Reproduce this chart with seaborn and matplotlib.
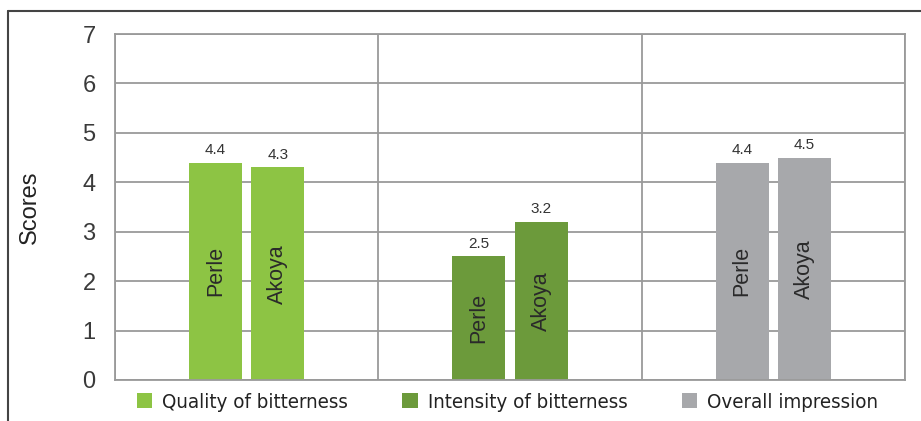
import seaborn as sns
import matplotlib.pyplot as plt
import pandas as pd
from matplotlib.lines import Line2D
from matplotlib.patches import Patch

# data
categories = ["Quality of bitterness", "Intensity of bitterness", "Overall impression"]
brands = ["Perle", "Akoya"]
perle = [4.4, 2.5, 4.4]
akoya = [4.3, 3.2, 4.5]
colors = ["#8dc444", "#6c9a3b", "#a7a8ab"]

df = pd.DataFrame({
    "category": categories * 2,
    "brand": ["Perle"] * 3 + ["Akoya"] * 3,
    "score": perle + akoya,
})

sns.set_style("white")
plt.rcParams["font.family"] = ["Liberation Sans", "DejaVu Sans"]

fig = plt.figure(figsize=(9.21, 4.21), dpi=100)
ax = fig.add_axes([0.1249, 0.0974, 0.8577, 0.8218])

sns.barplot(data=df, x="category", y="score", hue="brand", order=categories,
            hue_order=brands, width=0.474, gap=0.15, legend=False, ax=ax,
            linewidth=0, saturation=1)

# colour bars by category
for k, cont in enumerate(ax.containers):
    for i, bar in enumerate(cont):
        bar.set_facecolor(colors[i])
    ax.bar_label(cont, labels=[brands[k]] * 3, label_type="center",
                 rotation=90, fontsize=15.5, color="#2a2a2a")
    ax.bar_label(cont, fmt="%.1f", padding=4, fontsize=11, color="#333333")

ax.set_xlim(-0.5, 2.5)
ax.set_ylim(0, 7)
ax.set_yticks(range(8))
ax.set_xticks([])
ax.set_xticks([-0.5, 0.5, 1.5, 2.5], minor=True)
ax.tick_params(axis="x", which="minor", length=0)
ax.set_xticklabels([], minor=True)
ax.tick_params(axis="y", length=8, width=1.3, color="#9a9a9a", labelsize=17,
               labelcolor="#3a3a3a", pad=6)
ax.grid(True, axis="y", color="#9a9a9a", lw=1.3)
ax.grid(True, axis="x", which="minor", color="#9a9a9a", lw=1.3)
ax.set_axisbelow(True)
for s in ax.spines.values():
    s.set_color("#9a9a9a")
    s.set_linewidth(1.3)
ax.set_xlabel("")
ax.set_ylabel("Scores", fontsize=17, color="#222222", labelpad=30)

# legend
handles = [Patch(facecolor=c, edgecolor="none") for c in colors]
fig.legend(handles, categories, loc="center", bbox_to_anchor=(0.551, 0.045),
           ncol=3, frameon=False, handlelength=0.75, handleheight=0.75,
           handletextpad=0.5, columnspacing=2.65,
           prop={"family": "DejaVu Sans", "stretch": "condensed", "size": 14.7},
           labelcolor="#222222")

# outer frame
fig.add_artist(Line2D([8 / 921, 1], [1 - 11 / 421, 1 - 11 / 421], color="#444444", lw=1.5))
fig.add_artist(Line2D([8 / 921, 8 / 921], [0, 1 - 11 / 421], color="#444444", lw=1.5))

fig.savefig("out.png", dpi=100)
